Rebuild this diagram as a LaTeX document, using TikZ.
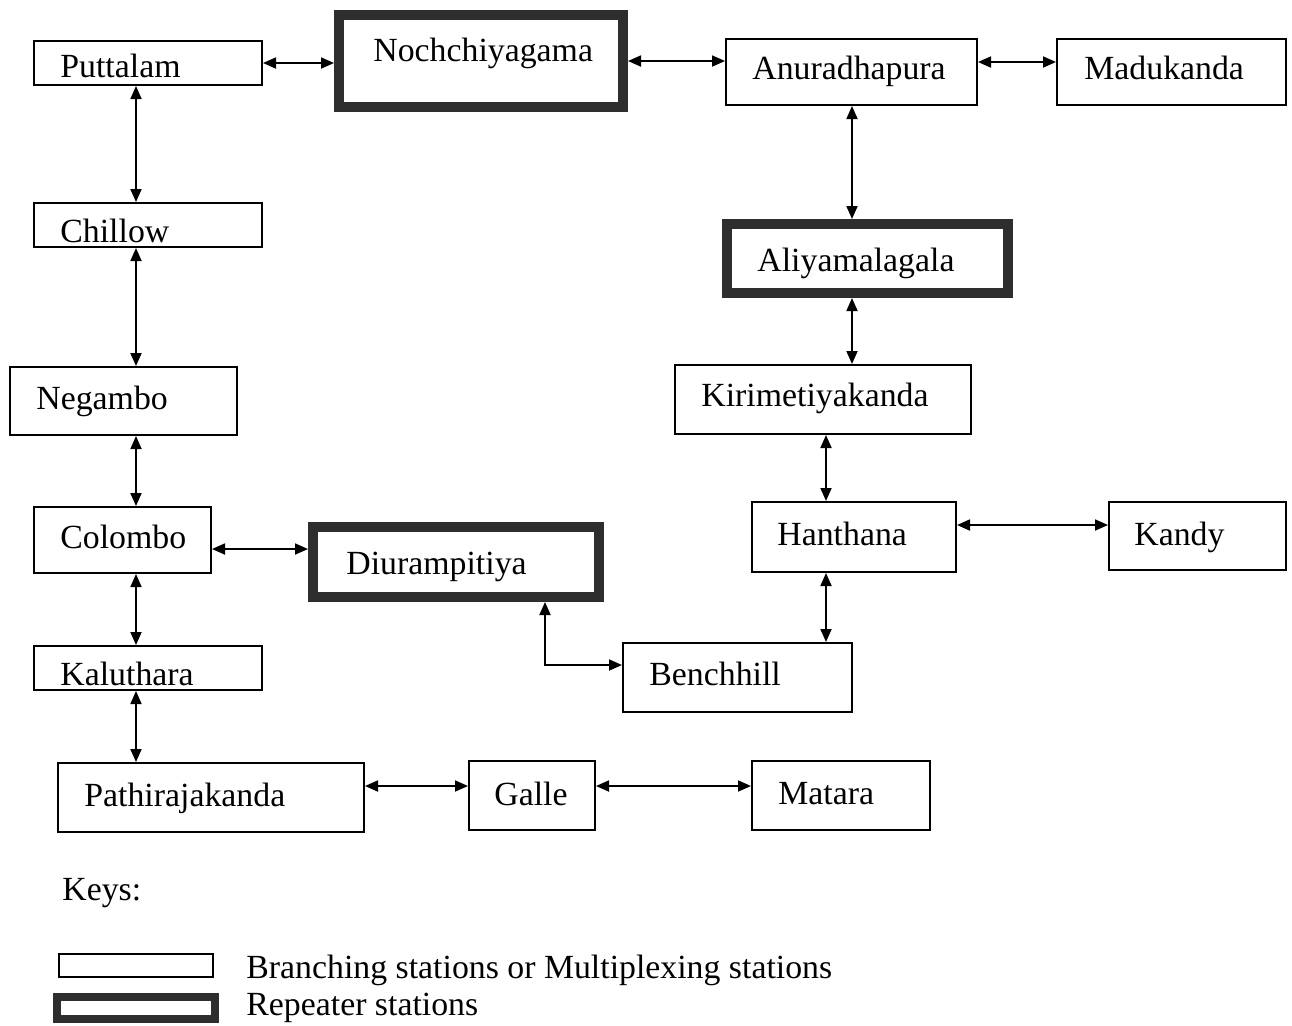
\documentclass[tikz,border=0pt]{standalone}
\usepackage{fontspec}
\setmainfont{Liberation Serif}
\usetikzlibrary{arrows.meta}
\begin{document}
\begin{tikzpicture}[x=0.5pt,y=-0.5pt,
  stn/.style={draw=black,line width=1pt,rectangle,inner sep=0pt},
  rep/.style={draw=black!82,line width=5pt,rectangle,inner sep=0pt},
  lbl/.style={anchor=base west,inner sep=0pt,font=\fontsize{16.9}{19}\selectfont},
  bi/.style={line width=0.9pt,{Triangle[length=6.5pt,width=5.5pt]}-{Triangle[length=6.5pt,width=5.5pt]}}]
\useasboundingbox (0,0) rectangle (1292,1025);
% stations (outer pixel extents)
\node[stn,minimum width=114pt,minimum height=22pt] (put) at (148,63) {};
\node[rep,minimum width=142pt,minimum height=46pt] (noc) at (481,61) {};
\node[stn,minimum width=125.5pt,minimum height=33pt] (anu) at (851.5,72) {};
\node[stn,minimum width=114.5pt,minimum height=33pt] (mad) at (1171.5,72) {};
\node[stn,minimum width=114pt,minimum height=22pt] (chi) at (148,225) {};
\node[rep,minimum width=140.5pt,minimum height=34.5pt] (ali) at (867.5,258.5) {};
\node[stn,minimum width=113.5pt,minimum height=34pt] (neg) at (123.5,401) {};
\node[stn,minimum width=148pt,minimum height=34.5pt] (kir) at (823,399.5) {};
\node[stn,minimum width=88.5pt,minimum height=33pt] (col) at (122.5,540) {};
\node[rep,minimum width=143pt,minimum height=35pt] (diu) at (456,562) {};
\node[stn,minimum width=102pt,minimum height=35pt] (han) at (854,537) {};
\node[stn,minimum width=88.5pt,minimum height=34pt] (kan) at (1197.5,536) {};
\node[stn,minimum width=114pt,minimum height=22pt] (kal) at (148,668) {};
\node[stn,minimum width=114.5pt,minimum height=34.5pt] (ben) at (737.5,677.5) {};
\node[stn,minimum width=153pt,minimum height=34.5pt] (pat) at (211,797.5) {};
\node[stn,minimum width=63pt,minimum height=34.5pt] (gal) at (532,795.5) {};
\node[stn,minimum width=89pt,minimum height=34.5pt] (mat) at (841,795.5) {};
% labels
\node[lbl] (putT) at (60,77) {Puttalam};
\node[lbl] (nocT) at (373,61) {Nochchiyagama};
\node[lbl] (anuT) at (752,79) {Anuradhapura};
\node[lbl] (madT) at (1084,79) {Madukanda};
\node[lbl] (chiT) at (60,242) {Chillow};
\node[lbl] (aliT) at (757,271) {Aliyamalagala};
\node[lbl] (negT) at (36,409) {Negambo};
\node[lbl] (kirT) at (701,406) {Kirimetiyakanda};
\node[lbl] (colT) at (60,548) {Colombo};
\node[lbl] (diuT) at (346,574) {Diurampitiya};
\node[lbl] (hanT) at (777,545) {Hanthana};
\node[lbl] (kanT) at (1134,545) {Kandy};
\node[lbl] (kalT) at (60,685) {Kaluthara};
\node[lbl] (benT) at (649,685) {Benchhill};
\node[lbl] (patT) at (84,806) {Pathirajakanda};
\node[lbl] (galT) at (494,805) {Galle};
\node[lbl] (matT) at (778,804) {Matara};
% helper coordinates
\coordinate (lx) at (136,0);
\coordinate (rx1) at (852,0);
\coordinate (rx2) at (826,0);
\coordinate (am) at (0,62);
\coordinate (cdy) at (0,549);
\coordinate (hy) at (0,525);
\coordinate (by) at (0,786);
\coordinate (dbx) at (545,665);
% connectors
\draw[bi] (put.east) -- (put.east -| noc.west);
\draw[bi] (noc.east) -- (noc.east -| anu.west);
\draw[bi] (am -| anu.east) -- (am -| mad.west);
\draw[bi] (lx |- put.south) -- (lx |- chi.north);
\draw[bi] (lx |- chi.south) -- (lx |- neg.north);
\draw[bi] (lx |- neg.south) -- (lx |- col.north);
\draw[bi] (lx |- col.south) -- (lx |- kal.north);
\draw[bi] (lx |- kal.south) -- (lx |- pat.north);
\draw[bi] (cdy -| col.east) -- (cdy -| diu.west);
\draw[bi] (dbx |- diu.south) |- (dbx -| ben.west);
\draw[bi] (rx1 |- anu.south) -- (rx1 |- ali.north);
\draw[bi] (rx1 |- ali.south) -- (rx1 |- kir.north);
\draw[bi] (rx2 |- kir.south) -- (rx2 |- han.north);
\draw[bi] (rx2 |- han.south) -- (rx2 |- ben.north);
\draw[bi] (hy -| han.east) -- (hy -| kan.west);
\draw[bi] (by -| pat.east) -- (by -| gal.west);
\draw[bi] (by -| gal.east) -- (by -| mat.west);
% keys
\node[lbl] (keys) at (62,900) {Keys:};
\node[stn,minimum width=77pt,minimum height=11.5pt] (keyA) at (136,965) {};
\node[rep,line width=4pt,minimum width=79pt,minimum height=11pt] (keyB) at (136,1008) {};
\node[lbl] (keyAT) at (246,978) {Branching stations or Multiplexing stations};
\node[lbl] (keyBT) at (246,1015) {Repeater stations};
\end{tikzpicture}
\end{document}
